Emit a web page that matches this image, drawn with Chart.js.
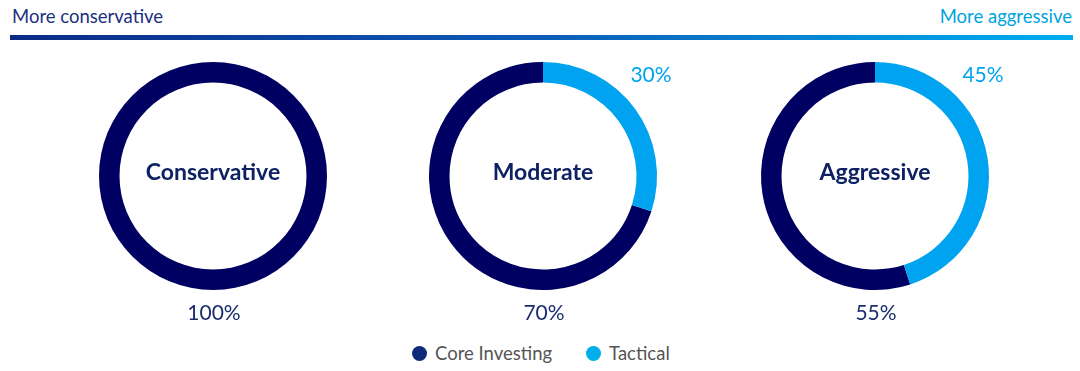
<!DOCTYPE html>
<html>
<head>
<meta charset="utf-8">
<script src="https://cdn.jsdelivr.net/npm/chart.js@4"></script>
<style>
  body { margin: 0; background: #fff; width: 1080px; height: 371px; position: relative; overflow: hidden; font-family: Lato, "Open Sans", sans-serif; }
  .hdr { position: absolute; top: 5px; font-size: 18.5px; }
  #left { left: 12px; color: #1b2f80; }
  #right { right: 8px; color: #00a3e0; }
  #bar { position: absolute; left: 10px; top: 35px; width: 1063px; height: 5px; background: linear-gradient(to right, #0b2a86, #0a5cb8 50%, #00aeef); }
  .box { position: absolute; top: 26px; width: 300px; height: 300px; }
  #legend { position: absolute; top: 342px; left: 412px; display: flex; align-items: center; font-size: 18.5px; color: #555; }
  .dot { width: 15px; height: 15px; border-radius: 50%; display: inline-block; margin-right: 8px; }
</style>
</head>
<body>
<div class="hdr" id="left">More conservative</div>
<div class="hdr" id="right">More aggressive</div>
<div id="bar"></div>
<div class="box" style="left:63px"><canvas id="c0"></canvas></div>
<div class="box" style="left:393px"><canvas id="c1"></canvas></div>
<div class="box" style="left:725px"><canvas id="c2"></canvas></div>
<div id="legend"></div>
<script>
const profiles = ['Conservative', 'Moderate', 'Aggressive'];
const seriesNames = ['Core Investing', 'Tactical'];
const coreData = [100, 70, 55];
const tacticalData = [0, 30, 45];

const navy = '#000062';
const light = '#00a3ef';

// legend
const legend = document.getElementById('legend');
[['#0f2a7a', seriesNames[0]], ['#00aee9', seriesNames[1]]].forEach(([c, t], i) => {
  const s = document.createElement('span');
  s.style.display = 'flex';
  s.style.alignItems = 'center';
  s.style.marginRight = i === 0 ? '34px' : '0';
  s.innerHTML = '<span class="dot" style="background:' + c + '"></span>' + t;
  legend.appendChild(s);
});

// center title + percentage labels
const labelPlugin = {
  id: 'labels',
  afterDraw(chart) {
    const ctx = chart.ctx;
    const arc = chart.getDatasetMeta(0).data[0];
    const cx = arc.x, cy = arc.y;
    const ds = chart.data.datasets[0].data;
    ctx.save();
    ctx.textAlign = 'center';
    ctx.textBaseline = 'middle';
    ctx.fillStyle = '#0d2163';
    ctx.font = 'bold 23px Lato, "Open Sans", sans-serif';
    ctx.fillText(chart.options.plugins.centerTitle, cx, cy - 3);
    ctx.font = '21px Lato, "Open Sans", sans-serif';
    ctx.fillStyle = '#1a2d6e';
    ctx.fillText(ds[0] + '%', cx + 1, cy + 137);
    if (ds[1] > 0) {
      ctx.fillStyle = light;
      ctx.fillText(ds[1] + '%', cx + 108, cy - 101);
    }
    ctx.restore();
  }
};

profiles.forEach((name, i) => {
  new Chart(document.getElementById('c' + i), {
    type: 'doughnut',
    data: {
      labels: seriesNames,
      datasets: [{
        data: [coreData[i], tacticalData[i]],
        backgroundColor: [navy, light],
        borderWidth: 0
      }]
    },
    options: {
      responsive: true,
      maintainAspectRatio: false,
      animation: false,
      cutout: '82%',
      // tactical slice starts at 12 o'clock going clockwise
      rotation: 360 * tacticalData[i] / 100,
      layout: { padding: 36 },
      plugins: {
        legend: { display: false },
        tooltip: { enabled: false },
        centerTitle: name
      }
    },
    plugins: [labelPlugin]
  });
});
</script>
</body>
</html>
